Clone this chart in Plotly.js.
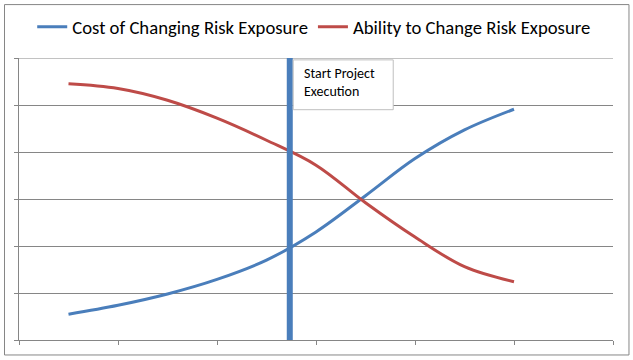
<!DOCTYPE html>
<html>
<head>
<meta charset="utf-8">
<script src="https://cdn.plot.ly/plotly-3.0.1.min.js"></script>
<style>html,body{margin:0;padding:0;background:#fff;}#chart{width:633px;height:360px;}</style>
</head>
<body>
<div id="chart"></div>
<script>
// Data
const xPoints = [1, 2, 3, 4, 5, 6, 7, 8, 9, 10];
const costOfChanging = [0.55, 0.74, 0.98, 1.29, 1.70, 2.30, 3.07, 3.86, 4.47, 4.91];
const abilityToChange = [5.45, 5.35, 5.10, 4.72, 4.25, 3.72, 2.92, 2.19, 1.56, 1.24];
const startExecX = [5.47, 5.47];
const startExecY = [0, 6];
const seriesNames = ["Cost of Changing Risk Exposure", "Ability to Change Risk Exposure"];
const markerLabel = "Start Project<br>Execution";

const FONT = "Carlito, Lato, 'Open Sans', sans-serif";
const BLUE = "#4a7ebb";
const RED = "#be4b48";
const GRID = "#868686";

const traces = [
  {x: xPoints, y: costOfChanging, type: "scatter", mode: "lines", name: seriesNames[0],
   line: {color: BLUE, width: 3, shape: "spline", smoothing: 1}},
  {x: xPoints, y: abilityToChange, type: "scatter", mode: "lines", name: seriesNames[1],
   line: {color: RED, width: 3, shape: "spline", smoothing: 1}},
  {x: startExecX, y: startExecY, type: "scatter", mode: "lines", showlegend: false,
   line: {color: BLUE, width: 6}, hoverinfo: "skip"}
];

const layout = {
  width: 633, height: 360,
  margin: {l: 18.5, r: 20, t: 57.5, b: 20, pad: 0, autoexpand: false},
  paper_bgcolor: "#ffffff", plot_bgcolor: "#ffffff",
  font: {family: FONT, color: "#000000", size: 13},
  showlegend: true,
  legend: {orientation: "h", x: 0.497, xanchor: "center", y: 1.11, yanchor: "middle",
           font: {family: FONT, size: 18.7, color: "#000"}, bgcolor: "rgba(0,0,0,0)",
           itemwidth: 30, tracegroupgap: 0},
  xaxis: {range: [0, 12], tickvals: [0, 2, 4, 6, 8, 10, 12], showticklabels: false,
          ticks: "outside", ticklen: 4, tickcolor: GRID, showgrid: false, zeroline: false,
          showline: true, linecolor: GRID, linewidth: 1, fixedrange: true, automargin: false},
  yaxis: {range: [0, 6], dtick: 1, tick0: 0, showticklabels: false,
          ticks: "outside", ticklen: 4, tickcolor: GRID, showgrid: true, gridcolor: GRID,
          gridwidth: 1, zeroline: false, showline: true, linecolor: GRID, linewidth: 1,
          fixedrange: true, automargin: false},
  shapes: [
    {type: "rect", xref: "paper", yref: "paper", x0: -0.0244, x1: 1.0269, y0: -0.0531, y1: 1.1894,
     line: {color: GRID, width: 1}, fillcolor: "rgba(0,0,0,0)", layer: "below"},
    {type: "line", xref: "paper", yref: "y", x0: 0, x1: 1, y0: 6, y1: 6,
     line: {color: GRID, width: 1}, layer: "below"},
    {type: "rect", xref: "x", yref: "y", x0: 5.54, x1: 7.56, y0: 4.90, y1: 5.96,
     line: {color: "#bfbfbf", width: 1}, fillcolor: "#ffffff", layer: "above"}
  ],
  annotations: [
    {xref: "x", yref: "y", x: 5.72, y: 5.47, xanchor: "left", yanchor: "middle", align: "left",
     text: markerLabel, showarrow: false, font: {family: FONT, size: 14, color: "#000"}}
  ]
};

Plotly.newPlot("chart", traces, layout, {displayModeBar: false, staticPlot: true});
</script>
</body>
</html>
